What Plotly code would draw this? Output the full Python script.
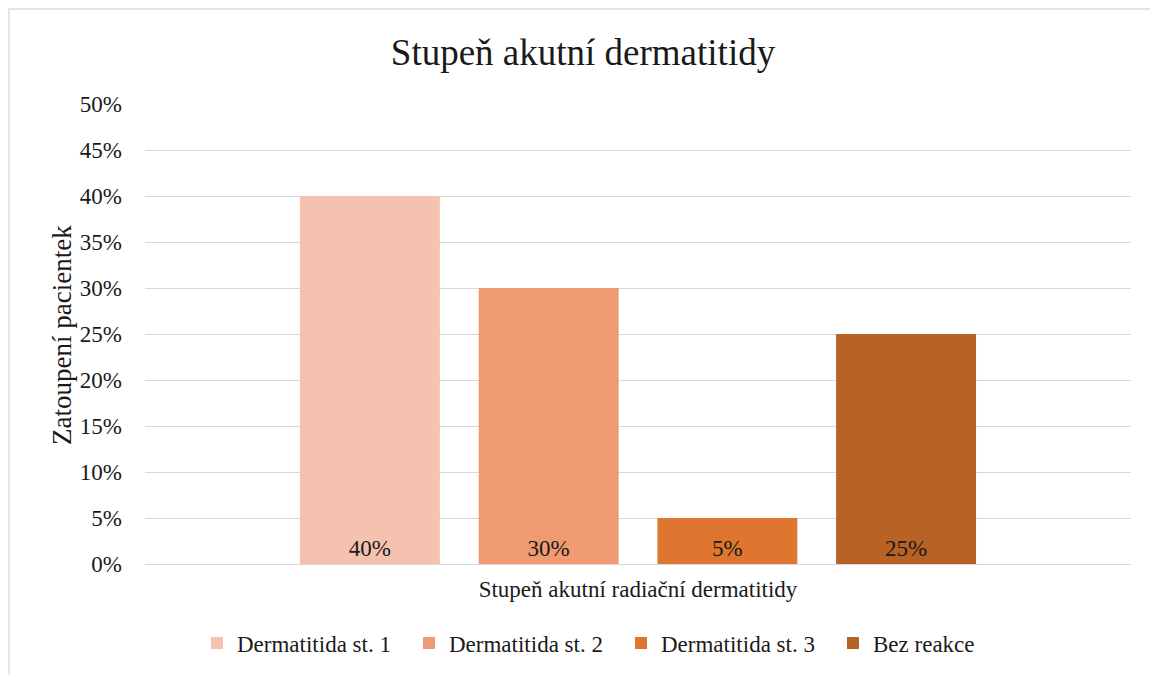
import plotly.graph_objects as go

categories = ["Stupeň akutní radiační dermatitidy"]
series_names = ["Dermatitida st. 1", "Dermatitida st. 2", "Dermatitida st. 3", "Bez reakce"]
series_values = [0.40, 0.30, 0.05, 0.25]
series_colors = ["#F5C2B0", "#F09A72", "#DE762F", "#B96225"]
y_ticks = [0, 0.05, 0.10, 0.15, 0.20, 0.25, 0.30, 0.35, 0.40, 0.45, 0.50]
y_title = "Zatoupení pacientek"
chart_title = "Stupeň akutní dermatitidy"

FONT = "Liberation Serif"
TXT = "#1a1a1a"

fig = go.Figure()
for name, val, col in zip(series_names, series_values, series_colors):
    fig.add_trace(go.Bar(
        name=name, x=categories, y=[val],
        marker=dict(color=col, line=dict(width=0)),
        text=[f"{round(val*100)}%"], textposition="inside",
        insidetextanchor="start", textangle=0,
        textfont=dict(family=FONT, size=23, color=TXT),
        cliponaxis=False,
    ))

# page body has an 8px margin; figure is sized to fit the window
W, H = 1150, 667
L, R, T, B = 137, 27, 96, 111
pw, ph = W - L - R, H - T - B

fig.update_layout(
    width=W, height=H,
    margin=dict(l=L, r=R, t=T, b=B, autoexpand=False),
    paper_bgcolor="white", plot_bgcolor="white",
    barmode="group", bargap=0.275, bargroupgap=0.217,
    font=dict(family=FONT, size=23, color=TXT),
    title=dict(text=chart_title, x=(583 - 8) / W, xref="container",
               y=1 - 44 / H, yref="container", yanchor="middle", xanchor="center",
               font=dict(family=FONT, size=37, color=TXT)),
    showlegend=True,
    legend=dict(orientation="h", xref="container", x=(197 - 8) / W, xanchor="left",
                y=-(635 - (H - B)) / ph, yanchor="middle",
                font=dict(family=FONT, size=23, color=TXT),
                itemwidth=30, traceorder="normal",
                entrywidth=167, entrywidthmode="pixels"),
    uniformtext=dict(minsize=8, mode="show"),
)
fig.update_yaxes(
    range=[0, 0.5], tickvals=y_ticks, tickformat=".0%",
    showgrid=True, gridcolor="#d9d9d9", gridwidth=1.3, zeroline=False,
    showline=False, ticks="", ticklabelstandoff=22,
    tickfont=dict(family=FONT, size=23, color=TXT),
    automargin=False,
)
fig.update_xaxes(
    showline=True, linecolor="#d9d9d9", linewidth=1.3,
    ticks="outside", ticklen=4, tickcolor="rgba(0,0,0,0)",
    tickfont=dict(family=FONT, size=23, color=TXT),
    automargin=False,
)
fig.add_annotation(text=y_title, xref="paper", yref="paper",
                   x=(54 - L) / pw, y=((H - B) - 327) / ph,
                   xanchor="center", yanchor="middle", textangle=-90,
                   showarrow=False, font=dict(family=FONT, size=27, color=TXT))
fig.add_shape(type="rect", xref="paper", yref="paper",
              x0=(1 - L) / pw, x1=(1200 - L) / pw,
              y0=((H - B) - 700) / ph, y1=((H - B) - 1) / ph,
              line=dict(color="#d9d9d9", width=1.3), layer="below")

fig.write_html("out.html")
